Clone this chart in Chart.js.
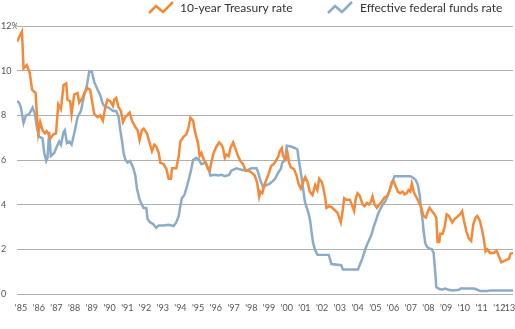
<!DOCTYPE html>
<html>
<head>
<meta charset="utf-8">
<script src="https://cdn.jsdelivr.net/npm/chart.js@4"></script>
<style>
  html, body { margin: 0; padding: 0; background: #fff; }
  #wrap { position: relative; width: 515px; height: 329px; }
</style>
</head>
<body>
<div id="wrap"><canvas id="rates"></canvas></div>
<script>
// 10-year Treasury rate (decimal year, percent)
const treasuryYears = [1985.0, 1985.15, 1985.28, 1985.37, 1985.55, 1985.72, 1985.85, 1986.05, 1986.12, 1986.2,
  1986.31, 1986.44, 1986.57, 1986.67, 1986.76, 1986.88, 1987.06, 1987.2, 1987.33, 1987.48,
  1987.63, 1987.78, 1987.85, 1988.0, 1988.08, 1988.23, 1988.42, 1988.51, 1988.7, 1988.8,
  1988.98, 1989.13, 1989.36, 1989.55, 1989.7, 1989.85, 1989.98, 1990.11, 1990.26, 1990.42,
  1990.49, 1990.6, 1990.74, 1990.87, 1990.98, 1991.11, 1991.21, 1991.36, 1991.49, 1991.68,
  1991.81, 1991.92, 1992.05, 1992.15, 1992.34, 1992.49, 1992.62, 1992.75, 1992.86, 1993.0,
  1993.09, 1993.28, 1993.43, 1993.56, 1993.69, 1993.75, 1993.99, 1994.13, 1994.22, 1994.41,
  1994.56, 1994.69, 1994.79, 1994.94, 1995.03, 1995.12, 1995.22, 1995.31, 1995.41, 1995.54,
  1995.65, 1995.78, 1995.88, 1995.97, 1996.1, 1996.26, 1996.41, 1996.54, 1996.63, 1996.73,
  1996.82, 1996.95, 1997.05, 1997.2, 1997.35, 1997.48, 1997.61, 1997.76, 1997.91, 1998.04,
  1998.23, 1998.42, 1998.55, 1998.67, 1998.74, 1998.85, 1998.99, 1999.17, 1999.36, 1999.49,
  1999.61, 1999.76, 1999.83, 1999.95, 2000.02, 2000.17, 2000.27, 2000.36, 2000.46, 2000.64,
  2000.78, 2000.89, 2001.02, 2001.15, 2001.27, 2001.4, 2001.53, 2001.68, 2001.83, 2001.96,
  2002.06, 2002.21, 2002.28, 2002.4, 2002.47, 2002.62, 2002.77, 2002.9, 2003.09, 2003.19,
  2003.28, 2003.37, 2003.47, 2003.6, 2003.79, 2003.9, 2004.03, 2004.13, 2004.22, 2004.35,
  2004.51, 2004.62, 2004.75, 2004.88, 2004.99, 2005.07, 2005.18, 2005.32, 2005.45, 2005.6,
  2005.75, 2005.88, 2006.01, 2006.16, 2006.26, 2006.35, 2006.5, 2006.63, 2006.77, 2006.88,
  2007.01, 2007.1, 2007.2, 2007.29, 2007.39, 2007.52, 2007.67, 2007.8, 2007.95, 2008.08,
  2008.2, 2008.29, 2008.42, 2008.57, 2008.67, 2008.74, 2008.84, 2008.89, 2009.03, 2009.14,
  2009.25, 2009.38, 2009.57, 2009.7, 2009.85, 2010.0, 2010.13, 2010.23, 2010.38, 2010.51,
  2010.64, 2010.76, 2010.89, 2010.98, 2011.13, 2011.26, 2011.36, 2011.45, 2011.55, 2011.7,
  2011.92, 2012.07, 2012.21, 2012.34, 2012.49, 2012.64, 2012.77, 2012.86, 2013.0];
const treasuryRates = [11.3, 11.55, 11.75, 10.1, 10.25, 9.9, 9.15, 9.0, 8.06, 7.2,
  7.7, 7.34, 7.2, 7.3, 7.2, 6.97, 7.16, 7.19, 8.5, 8.28,
  9.36, 9.43, 8.7, 8.64, 8.06, 8.93, 9.0, 8.57, 8.78, 9.0,
  9.22, 9.15, 8.06, 7.92, 8.0, 7.77, 8.35, 8.71, 8.64, 8.42,
  8.71, 8.78, 8.35, 8.2, 7.7, 7.92, 7.99, 8.13, 7.77, 7.48,
  7.34, 6.9, 7.34, 7.41, 7.19, 6.76, 6.4, 6.69, 6.61, 6.32,
  5.89, 5.82, 5.6, 5.17, 5.17, 5.63, 5.63, 6.18, 6.83, 7.05,
  7.15, 7.48, 7.9, 7.77, 7.34, 7.05, 6.76, 6.18, 6.32, 6.03,
  5.89, 5.6, 5.53, 5.89, 6.32, 6.61, 6.79, 6.69, 6.54, 6.1,
  6.25, 6.18, 6.54, 6.79, 6.47, 6.18, 5.96, 5.82, 5.53, 5.53,
  5.46, 5.31, 5.02, 4.37, 4.59, 4.52, 4.95, 5.31, 5.75, 5.82,
  5.96, 6.18, 6.4, 6.54, 6.18, 6.03, 6.32, 5.89, 5.67, 5.6,
  5.31, 4.95, 4.73, 5.02, 5.24, 5.02, 4.59, 4.44, 4.88, 4.66,
  5.17, 5.02, 4.8, 4.3, 3.86, 3.94, 3.89, 3.79, 3.65, 3.43,
  3.21, 3.65, 4.3, 4.23, 4.23, 4.01, 3.72, 4.3, 4.52, 4.4,
  4.01, 3.94, 4.08, 4.01, 4.15, 4.37, 4.01, 3.86, 4.01, 4.15,
  4.33, 4.37, 4.59, 5.02, 5.05, 4.88, 4.59, 4.52, 4.59, 4.47,
  4.52, 4.66, 4.59, 4.95, 4.59, 4.37, 4.15, 3.94, 3.5, 3.43,
  3.72, 3.86, 3.72, 3.57, 3.43, 2.34, 2.34, 2.71, 2.71, 3.0,
  3.57, 3.5, 3.21, 3.36, 3.46, 3.57, 3.72, 3.29, 2.78, 2.49,
  2.39, 3.14, 3.43, 3.5, 3.29, 2.85, 2.42, 1.91, 2.01, 1.84,
  1.84, 1.95, 1.69, 1.43, 1.48, 1.55, 1.58, 1.81, 1.84];

// Effective federal funds rate
const fedYears = [1985.0, 1985.12, 1985.22, 1985.37, 1985.5, 1985.69, 1985.88, 1986.01, 1986.12, 1986.25,
  1986.44, 1986.54, 1986.65, 1986.72, 1986.82, 1986.91, 1987.1, 1987.25, 1987.38, 1987.48,
  1987.63, 1987.7, 1987.82, 1987.95, 1988.08, 1988.23, 1988.42, 1988.61, 1988.8, 1988.95,
  1989.08, 1989.23, 1989.36, 1989.55, 1989.7, 1989.85, 1989.98, 1990.17, 1990.42, 1990.6,
  1990.74, 1990.83, 1990.92, 1991.02, 1991.11, 1991.24, 1991.39, 1991.55, 1991.68, 1991.77,
  1991.92, 1992.05, 1992.15, 1992.3, 1992.37, 1992.52, 1992.68, 1992.86, 1993.0, 1993.28,
  1993.56, 1993.84, 1993.99, 1994.13, 1994.22, 1994.31, 1994.45, 1994.56, 1994.71, 1994.84,
  1994.94, 1995.12, 1995.28, 1995.41, 1995.65, 1995.84, 1995.92, 1996.16, 1996.35, 1996.54,
  1996.73, 1996.97, 1997.1, 1997.38, 1997.67, 1997.95, 1998.23, 1998.52, 1998.61, 1998.74,
  1998.89, 1999.08, 1999.27, 1999.42, 1999.57, 1999.76, 1999.89, 1999.98, 2000.08, 2000.17,
  2000.23, 2000.46, 2000.7, 2000.83, 2000.93, 2001.02, 2001.15, 2001.25, 2001.36, 2001.45,
  2001.55, 2001.64, 2001.72, 2001.83, 2001.96, 2002.6, 2002.75, 2003.3, 2003.4, 2004.25,
  2004.37, 2004.5, 2004.62, 2004.75, 2004.88, 2005.03, 2005.13, 2005.26, 2005.37, 2005.5,
  2005.64, 2005.79, 2005.94, 2006.07, 2006.16, 2006.31, 2007.2, 2007.39, 2007.52, 2007.63,
  2007.73, 2007.82, 2007.9, 2007.95, 2008.05, 2008.14, 2008.27, 2008.42, 2008.52, 2008.61,
  2008.67, 2008.8, 2008.99, 2009.18, 2009.36, 2009.6, 2009.95, 2010.04, 2010.8, 2010.98,
  2011.17, 2011.55, 2011.7, 2013.0];
const fedRates = [8.64, 8.57, 8.35, 7.66, 7.99, 8.06, 8.35, 8.06, 7.48, 7.05,
  6.97, 6.32, 5.96, 6.1, 7.26, 6.18, 6.32, 6.61, 6.83, 6.69,
  7.26, 7.34, 6.76, 6.83, 6.69, 7.19, 7.92, 8.21, 8.93, 9.36,
  9.97, 9.94, 9.5, 9.15, 8.9, 8.5, 8.38, 8.35, 8.2, 8.2,
  7.92, 7.34, 6.9, 6.32, 6.03, 5.89, 5.96, 5.67, 5.31, 4.73,
  4.23, 4.01, 3.86, 3.86, 3.36, 3.21, 3.14, 2.97, 3.07, 3.07,
  3.11, 3.05, 3.21, 3.5, 3.94, 4.3, 4.44, 4.73, 5.17, 5.6,
  6.0, 6.1, 6.0, 5.82, 5.89, 5.53, 5.31, 5.34, 5.31, 5.34,
  5.28, 5.34, 5.53, 5.63, 5.57, 5.53, 5.63, 5.63, 5.46, 5.09,
  4.8, 4.88, 4.95, 5.05, 5.17, 5.46, 5.6, 5.89, 5.96, 6.25,
  6.64, 6.61, 6.54, 6.47, 5.89, 5.46, 4.73, 4.15, 3.86, 3.65,
  3.29, 2.71, 2.27, 1.98, 1.77, 1.76, 1.35, 1.3, 1.1, 1.1,
  1.35, 1.6, 1.91, 2.2, 2.42, 2.71, 3.0, 3.29, 3.57, 3.79,
  4.01, 4.15, 4.44, 4.73, 4.95, 5.28, 5.28, 5.2, 5.09, 4.88,
  4.44, 3.72, 3.29, 2.85, 2.27, 2.13, 2.05, 2.01, 1.84, 0.97,
  0.32, 0.25, 0.2, 0.25, 0.2, 0.17, 0.2, 0.26, 0.26, 0.2,
  0.14, 0.14, 0.17, 0.17];

// x axis labels, one per year
const tickYears = [];
const tickLabels = [];
for (let y = 1985; y <= 2013; y++) {
    tickYears.push(y);
    tickLabels.push("'" + String(y).slice(2));
}

const orange = '#f5893a';
const blue = '#8cabc8';
const fontFamily = 'Lato, "Open Sans", sans-serif';

function toPoints(xs, ys) {
    return xs.map(function(x, i) { return { x: x, y: ys[i] }; });
}

// legend at the top right with little zigzag icons
const zigLegend = {
    id: 'zigLegend',
    afterDraw(chart) {
        const ctx = chart.ctx;
        const items = [
            { text: '10-year Treasury rate', color: orange, iconX: 149, textX: 180 },
            { text: 'Effective federal funds rate', color: blue, iconX: 328, textX: 360 }
        ];
        const zig = [[0, 11], [7, 4], [14, 10], [24, 0]];
        ctx.save();
        items.forEach(function(it) {
            ctx.beginPath();
            zig.forEach(function(p, i) {
                const px = it.iconX + p[0], py = 2 + p[1];
                if (i === 0) ctx.moveTo(px, py); else ctx.lineTo(px, py);
            });
            ctx.strokeStyle = it.color;
            ctx.lineWidth = 2.5;
            ctx.stroke();
            ctx.fillStyle = '#333';
            ctx.font = '12px ' + fontFamily;
            ctx.textBaseline = 'middle';
            ctx.textAlign = 'left';
            ctx.fillText(it.text, it.textX, 8);
        });
        ctx.restore();
    }
};

new Chart(document.getElementById('rates'), {
    type: 'line',
    data: {
        datasets: [{
            label: '10-year Treasury rate',
            data: toPoints(treasuryYears, treasuryRates),
            borderColor: orange,
            borderWidth: 2.5,
            pointRadius: 0,
            tension: 0
        }, {
            label: 'Effective federal funds rate',
            data: toPoints(fedYears, fedRates),
            borderColor: blue,
            borderWidth: 2.5,
            pointRadius: 0,
            tension: 0
        }]
    },
    options: {
        responsive: true,
        maintainAspectRatio: false,
        animation: false,
        layout: { padding: { top: 26, left: 1, right: 2, bottom: 8 } },
        plugins: {
            legend: { display: false },
            tooltip: { enabled: false }
        },
        scales: {
            x: {
                type: 'linear',
                min: 1985,
                max: 2013,
                grid: { display: false, drawTicks: false },
                border: { display: false },
                afterBuildTicks: function(scale) {
                    scale.ticks = tickYears.map(function(v) { return { value: v }; });
                    // last label is pulled in so it stays on the canvas
                    scale.ticks[scale.ticks.length - 1].value = 2012.55;
                },
                afterFit: function(scale) {
                    scale.paddingLeft = 0;
                    scale.paddingRight = 0;
                },
                ticks: {
                    autoSkip: false,
                    maxRotation: 0,
                    padding: 8,
                    labelOffset: 4,
                    color: '#555',
                    font: { family: fontFamily, size: 9 },
                    callback: function(value, index) { return tickLabels[index]; }
                }
            },
            y: {
                min: 0,
                max: 12,
                border: { display: false },
                grid: { color: '#b0b0b0', lineWidth: 1, drawTicks: false },
                afterFit: function(scale) { scale.width = 16; },
                ticks: {
                    stepSize: 2,
                    padding: 2,
                    crossAlign: 'far',
                    color: '#555',
                    font: { family: fontFamily, size: 9 },
                    callback: function(v) { return v === 12 ? '12%' : v; }
                }
            }
        }
    },
    plugins: [zigLegend]
});
</script>
</body>
</html>
